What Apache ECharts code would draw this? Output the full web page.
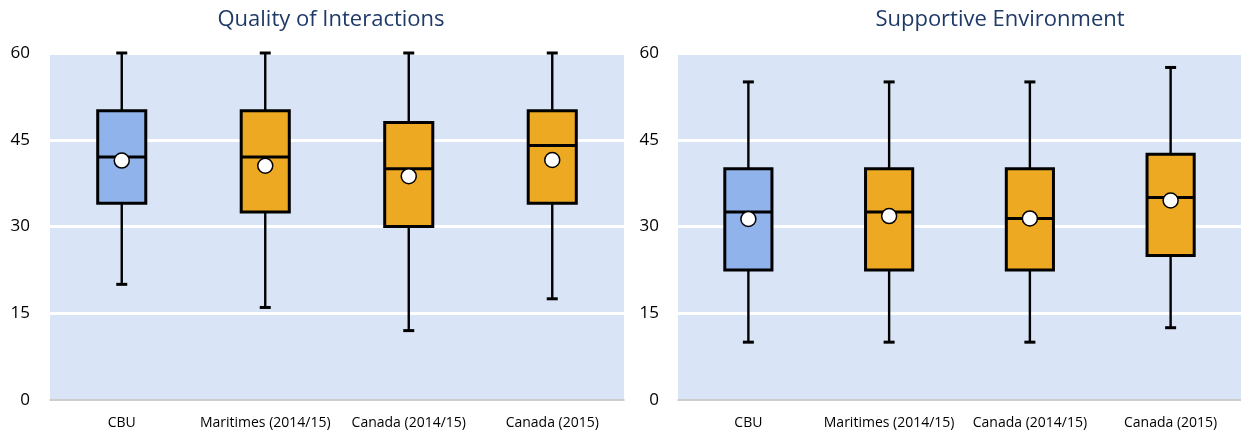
<!DOCTYPE html>
<html>
<head>
<meta charset="utf-8">
<script src="https://cdn.jsdelivr.net/npm/echarts@6/dist/echarts.min.js"></script>
<style>
  html, body { margin: 0; padding: 0; background: #fff; }
  #chart { width: 1241px; height: 432px; }
</style>
</head>
<body>
<div id="chart"></div>
<script>
// ---- Data ----
const categories = ['CBU', 'Maritimes (2014/15)', 'Canada (2014/15)', 'Canada (2015)'];
const yTicks = [0, 15, 30, 45, 60];

const titles = ['Quality of Interactions', 'Supportive Environment'];

// [min, Q1, median, Q3, max]
const qualityBoxes = [
  [20, 34, 42, 50, 60],
  [16, 32.5, 42, 50, 60],
  [12, 30, 40, 48, 60],
  [17.5, 34, 44, 50, 60]
];
const qualityMeans = [41.4, 40.5, 38.7, 41.5];

const supportiveBoxes = [
  [10, 22.5, 32.5, 40, 55],
  [10, 22.5, 32.5, 40, 55],
  [10, 22.5, 31.4, 40, 55],
  [12.5, 25, 35, 42.5, 57.5]
];
const supportiveMeans = [31.3, 31.8, 31.4, 34.5];

// ---- Styles ----
const boxColors = ['#8FB3EA', '#EEA922', '#EEA922', '#EEA922'];
const FONT = 'Open Sans';

const chart = echarts.init(document.getElementById('chart'), null, { renderer: 'canvas' });

function renderBox(params, api) {
  const x = api.value(0);
  const vMin = api.value(1), q1 = api.value(2), med = api.value(3), q3 = api.value(4), vMax = api.value(5);
  const pMin = api.coord([x, vMin]);
  const pQ1 = api.coord([x, q1]);
  const pMed = api.coord([x, med]);
  const pQ3 = api.coord([x, q3]);
  const pMax = api.coord([x, vMax]);
  const band = api.size([1, 0])[0];
  const bw = band * 0.335;
  const cap = 11;
  const cx = pMed[0];
  const lineStyle = { stroke: '#000', lineWidth: 2.4 };
  const color = boxColors[params.dataIndex];
  return {
    type: 'group',
    children: [
      { type: 'line', shape: { x1: cx, y1: pQ3[1], x2: cx, y2: pMax[1] }, style: lineStyle },
      { type: 'line', shape: { x1: cx - cap / 2, y1: pMax[1], x2: cx + cap / 2, y2: pMax[1] }, style: { stroke: '#000', lineWidth: 3 } },
      { type: 'line', shape: { x1: cx, y1: pQ1[1], x2: cx, y2: pMin[1] }, style: lineStyle },
      { type: 'line', shape: { x1: cx - cap / 2, y1: pMin[1], x2: cx + cap / 2, y2: pMin[1] }, style: { stroke: '#000', lineWidth: 3 } },
      { type: 'rect', shape: { x: cx - bw / 2, y: pQ3[1], width: bw, height: pQ1[1] - pQ3[1] },
        style: { fill: color, stroke: '#000', lineWidth: 3 } },
      { type: 'line', shape: { x1: cx - bw / 2, y1: pMed[1], x2: cx + bw / 2, y2: pMed[1] }, style: { stroke: '#000', lineWidth: 3 } }
    ]
  };
}

function boxData(boxes) {
  return boxes.map((b, i) => [i].concat(b));
}
function meanData(means) {
  return means.map((m, i) => [i, m]);
}

const grids = [
  { left: 50, top: 53, width: 574, height: 347 },
  { left: 678, top: 53, width: 575, height: 347 }
];

const option = {
  animation: false,
  backgroundColor: '#ffffff',
  title: [
    { text: titles[0], left: 331, top: 9, textAlign: 'center', padding: 0,
      textStyle: { fontFamily: FONT, fontSize: 22, fontWeight: 'normal', color: '#1F3A68' } },
    { text: titles[1], left: 1000, top: 9, textAlign: 'center', padding: 0,
      textStyle: { fontFamily: FONT, fontSize: 22, fontWeight: 'normal', color: '#1F3A68' } }
  ],
  grid: grids.map(g => Object.assign({ show: true, backgroundColor: '#D9E4F6', borderWidth: 0 }, g)),
  xAxis: [0, 1].map(i => ({
    type: 'category',
    gridIndex: i,
    data: categories,
    axisTick: { show: false },
    axisLine: { show: true, lineStyle: { color: '#BFBFBF', width: 1.5 } },
    axisLabel: { fontFamily: FONT, fontSize: 14, color: '#000', margin: 16, interval: 0 },
    splitLine: { show: false }
  })),
  yAxis: [0, 1].map(i => ({
    type: 'value',
    gridIndex: i,
    min: yTicks[0],
    max: yTicks[yTicks.length - 1],
    interval: yTicks[1] - yTicks[0],
    axisLine: { show: false },
    axisTick: { show: false },
    axisLabel: { fontFamily: FONT, fontSize: 17, color: '#000', margin: i === 0 ? 20 : 19 },
    splitLine: { show: true, lineStyle: { color: '#FFFFFF', width: 3 } }
  })),
  series: [
    { type: 'custom', xAxisIndex: 0, yAxisIndex: 0, renderItem: renderBox, data: boxData(qualityBoxes), z: 2 },
    { type: 'scatter', xAxisIndex: 0, yAxisIndex: 0, data: meanData(qualityMeans), symbol: 'circle', symbolSize: 15,
      itemStyle: { color: '#FFFFFF', borderColor: '#000', borderWidth: 1.5, opacity: 1 }, z: 3 },
    { type: 'custom', xAxisIndex: 1, yAxisIndex: 1, renderItem: renderBox, data: boxData(supportiveBoxes), z: 2 },
    { type: 'scatter', xAxisIndex: 1, yAxisIndex: 1, data: meanData(supportiveMeans), symbol: 'circle', symbolSize: 15,
      itemStyle: { color: '#FFFFFF', borderColor: '#000', borderWidth: 1.5, opacity: 1 }, z: 3 }
  ]
};

chart.setOption(option);
</script>
</body>
</html>
